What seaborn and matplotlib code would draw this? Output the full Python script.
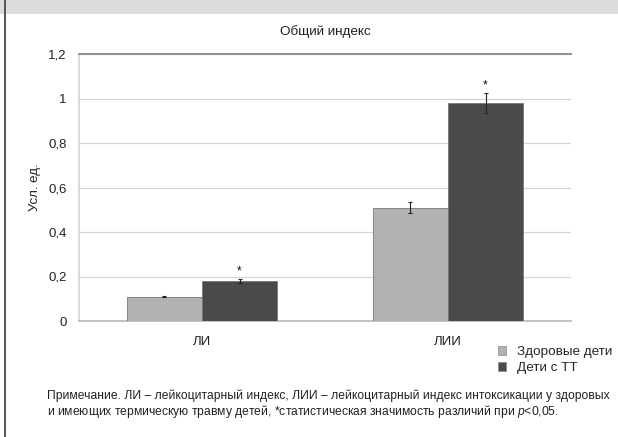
import matplotlib
matplotlib.use("Agg")
import matplotlib.pyplot as plt
from matplotlib.patches import Rectangle
from matplotlib.lines import Line2D
from matplotlib.ticker import FuncFormatter
import seaborn as sns
import pandas as pd

# Data
categories = ["ЛИ", "ЛИИ"]
groups = ["Здоровые дети", "Дети с ТТ"]
healthy_vals = [0.11, 0.51]
healthy_err = [0.004, 0.025]
burn_vals = [0.18, 0.98]
burn_err = [0.008, 0.045]
significant = [True, True]   # marked with * for the burn group

title = "Общий индекс"
ylabel = "Усл. ед."
note = ("Примечание. ЛИ – лейкоцитарный индекс, ЛИИ – лейкоцитарный индекс интоксикации у здоровых\n"
        "и имеющих термическую травму детей, *статистическая значимость различий при $\\it{p}$<0,05.")

sns.set_theme(style="white")
plt.rcParams["font.family"] = ["Liberation Sans", "DejaVu Sans"]
plt.rcParams["mathtext.fontset"] = "custom"
plt.rcParams["mathtext.rm"] = "Liberation Sans"
plt.rcParams["mathtext.it"] = "Liberation Sans:italic"

df = pd.DataFrame({
    "cat": categories * 2,
    "grp": [groups[0]] * 2 + [groups[1]] * 2,
    "val": healthy_vals + burn_vals,
})

fig = plt.figure(figsize=(6.18, 4.37), dpi=100)
fig.patch.set_facecolor("white")

# grey header strip and left rule
fig.add_artist(Rectangle((0, 1 - 14 / 437), 1, 14 / 437, transform=fig.transFigure,
                         facecolor="#dcdcdc", edgecolor="none", zorder=0))
fig.add_artist(Line2D([5 / 618, 5 / 618], [0, 1], transform=fig.transFigure,
                      color="#555555", lw=1.4))

ax = fig.add_axes([79 / 618, 1 - 321 / 437, 492 / 618, 267 / 437])
palette = {groups[0]: "#b2b2b2", groups[1]: "#4a4a4a"}
sns.barplot(data=df, x="cat", y="val", hue="grp", order=categories, hue_order=groups,
            palette=palette, width=0.61, errorbar=None, ax=ax,
            edgecolor="#777777", linewidth=0.6, legend=False, zorder=3)
ax.set_xlim(-0.5, 1.5)

errs = [healthy_err, burn_err]
vals = [healthy_vals, burn_vals]
bar_containers = list(ax.containers)
for gi, cont in enumerate(bar_containers):
    for bi, bar in enumerate(cont.patches):
        x = bar.get_x() + bar.get_width() / 2
        ax.errorbar(x, vals[gi][bi], yerr=errs[gi][bi], color="#222222",
                    elinewidth=0.8, capsize=1.5, capthick=0.8, zorder=4)
        if gi == 1 and significant[bi]:
            ax.text(x, vals[gi][bi] + errs[gi][bi] + 0.035, "*", ha="center", va="center",
                    fontsize=8.5, color="#111111", zorder=5)

ax.set_ylim(0, 1.2)
ax.set_yticks([0, 0.2, 0.4, 0.6, 0.8, 1.0, 1.2])
ax.yaxis.set_major_formatter(FuncFormatter(lambda v, p: ("%g" % round(v, 1)).replace(".", ",")))
ax.yaxis.grid(True, color="#d6d6d6", lw=0.9, zorder=0)
ax.set_axisbelow(True)
ax.tick_params(axis="both", length=0, labelsize=9.5, colors="#222222")
ax.tick_params(axis="y", pad=9)
ax.tick_params(axis="x", pad=11)
ax.set_xlabel("")
ax.set_ylabel(ylabel, fontsize=9.5, color="#222222", labelpad=5)
ax.set_title(title, fontsize=9.7, color="#222222", pad=13.5)

ax.spines["right"].set_visible(False)
ax.spines["top"].set_color("#888888")
ax.spines["top"].set_linewidth(1.3)
ax.spines["left"].set_color("#d6d6d6")
ax.spines["bottom"].set_color("#bbbbbb")

handles = [Rectangle((0, 0), 1, 1, facecolor=palette[g], edgecolor="#888888", lw=0.5) for g in groups]
fig.legend(handles, groups, loc="upper left", bbox_to_anchor=(493 / 618, 1 - 341 / 437),
           frameon=False, fontsize=9.7, handlelength=0.6, handleheight=0.6,
           handletextpad=0.8, labelspacing=0.3, borderaxespad=0)

fig.text(47 / 618, 1 - 389 / 437, note, fontsize=8.7, color="#222222",
         va="top", ha="left", linespacing=1.1)

fig.savefig("out.png", dpi=100)
